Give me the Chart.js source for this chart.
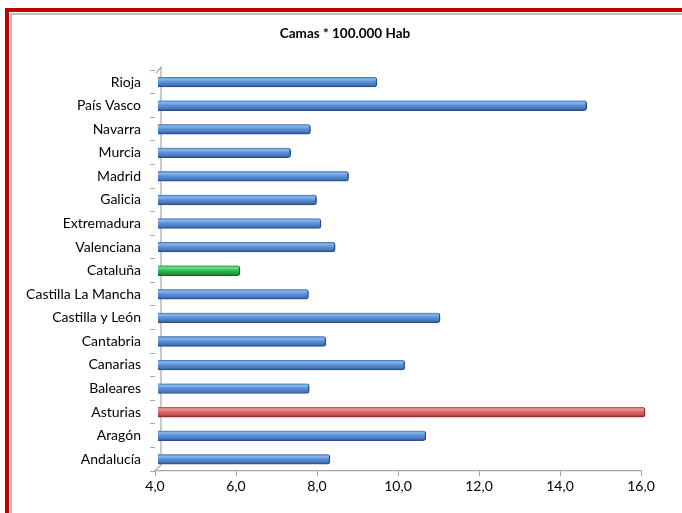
<!DOCTYPE html>
<html>
<head>
<meta charset="utf-8">
<script src="https://cdn.jsdelivr.net/npm/chart.js@4/dist/chart.umd.min.js"></script>
<style>
  html, body { margin: 0; padding: 0; background: #fff; }
  #wrap { position: relative; width: 682px; height: 513px; overflow: hidden; }
  #red { position: absolute; left: 5px; top: 8px; right: -10px; bottom: -10px;
         border-top: 4px solid #c00000; border-left: 4px solid #c00000; }
  #gray { position: absolute; left: 10px; top: 13px; right: -10px; bottom: -10px;
          border-top: 2px solid #bdbdbd; border-left: 2px solid #bdbdbd; }
  canvas { position: absolute; left: 0; top: 0; }
</style>
</head>
<body>
<div id="wrap">
  <div id="red"></div>
  <div id="gray"></div>
  <canvas id="c" width="682" height="513"></canvas>
</div>
<script>
// ---- data (bottom to top as in the source sheet) ----
const categories = [
  'Andalucía', 'Aragón', 'Asturias', 'Baleares', 'Canarias', 'Cantabria',
  'Castilla y León', 'Castilla La Mancha', 'Cataluña', 'Valenciana',
  'Extremadura', 'Galicia', 'Madrid', 'Murcia', 'Navarra', 'País Vasco', 'Rioja'
];
const camas = [
  8.32, 10.69, 16.1, 7.81, 10.17, 8.22,
  11.04, 7.79, 6.10, 8.45,
  8.10, 7.99, 8.78, 7.35, 7.84, 14.66, 9.48
];
const xTicks = [4, 6, 8, 10, 12, 14, 16];
const chartTitle = 'Camas * 100.000 Hab';
const highlightRed = 'Asturias';
const highlightGreen = 'Cataluña';

const FONT = 'Lato, "Open Sans", sans-serif';
const BAR_T = 10;

const palettes = {
  blue:  ['#3d6cae', '#8ab6ec', '#5990d6', '#4677be', '#2a4f86'],
  red:   ['#b4413e', '#f29a96', '#dc6662', '#c24c48', '#8c2b29'],
  green: ['#1c8f37', '#72e08c', '#2fb954', '#219c40', '#136b28']
};
function paletteFor(i) {
  if (categories[i] === highlightRed) return palettes.red;
  if (categories[i] === highlightGreen) return palettes.green;
  return palettes.blue;
}

function barFill(ctx) {
  const p = paletteFor(ctx.dataIndex);
  const chart = ctx.chart;
  const ys = chart.scales && chart.scales.y;
  if (!ys || ys.top === undefined) return p[2];
  const yc = ys.getPixelForValue(ctx.dataIndex);
  if (!isFinite(yc)) return p[2];
  const g = chart.ctx.createLinearGradient(0, yc - BAR_T / 2, 0, yc + BAR_T / 2);
  g.addColorStop(0, p[0]);
  g.addColorStop(0.2, p[1]);
  g.addColorStop(0.5, p[2]);
  g.addColorStop(0.8, p[3]);
  g.addColorStop(1, p[4]);
  return g;
}

const wallPlugin = {
  id: 'wall',
  afterLayout(chart) {
    // let the category labels extend into the left padding without being clipped
    chart.scales.y.left = 0;
  },
  beforeDatasetsDraw(chart) {
    const a = chart.chartArea;
    const c = chart.ctx;
    c.save();
    c.strokeStyle = '#a6a6a6';
    c.lineWidth = 1.2;
    c.beginPath();
    c.moveTo(a.left, a.bottom);
    c.lineTo(a.left + 6, a.bottom - 6);
    c.lineTo(a.left + 6, a.top - 3);
    c.lineTo(a.left + 1, a.top + 3);
    c.stroke();
    c.restore();
  }
};

new Chart(document.getElementById('c'), {
  type: 'bar',
  data: {
    labels: categories,
    datasets: [{
      data: camas,
      backgroundColor: barFill,
      borderColor: (ctx) => paletteFor(ctx.dataIndex)[4],
      borderWidth: { top: 0, bottom: 1, left: 0, right: 1.5 },
      borderSkipped: 'start',
      borderRadius: 3,
      barThickness: BAR_T,
      clip: { left: -3, top: 0, right: 8, bottom: 0 }
    }]
  },
  options: {
    indexAxis: 'y',
    responsive: false,
    animation: false,
    devicePixelRatio: 1,
    layout: { padding: { left: 49, right: 41, top: 0, bottom: 12 } },
    plugins: {
      legend: { display: false },
      tooltip: { enabled: false },
      title: {
        display: true,
        text: chartTitle,
        color: '#000',
        font: { family: FONT, size: 13.5, weight: 'bold' },
        padding: { top: 26, bottom: 28 }
      }
    },
    scales: {
      x: {
        type: 'linear',
        min: 4, max: 16,
        afterBuildTicks: (s) => { s.ticks = xTicks.map(v => ({ value: v })); },
        afterFit: (s) => { s.height = 30; },
        ticks: {
          color: '#000',
          font: { family: FONT, size: 14 },
          padding: 2,
          maxRotation: 0,
          callback: (v) => Number(v).toFixed(1).replace('.', ',')
        },
        grid: { drawOnChartArea: false, drawTicks: true, tickLength: 5, color: '#a6a6a6', lineWidth: 1 },
        border: { display: true, color: '#a6a6a6', width: 1.2 }
      },
      y: {
        type: 'category',
        reverse: true,
        offset: true,
        afterFit: (s) => { s.width = 106; },
        ticks: {
          color: '#000',
          font: { family: FONT, size: 14 },
          padding: 9,
          autoSkip: false
        },
        grid: { offset: true, drawOnChartArea: false, drawTicks: true, tickLength: 5, color: '#a6a6a6', lineWidth: 1 },
        border: { display: false }
      }
    }
  },
  plugins: [wallPlugin]
});
</script>
</body>
</html>
